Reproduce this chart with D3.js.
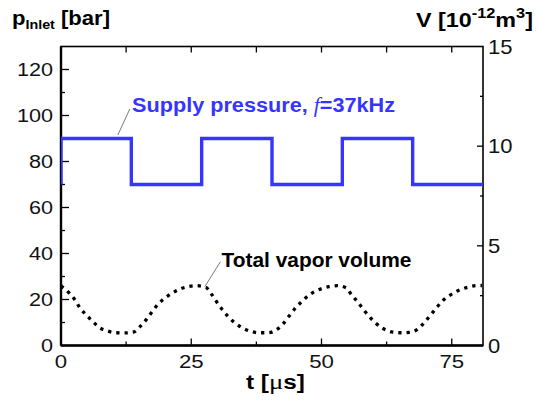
<!DOCTYPE html>
<html>
<head>
<meta charset="utf-8">
<script src="https://cdn.jsdelivr.net/npm/d3@7"></script>
<style>
  body { margin: 0; background: #fff; }
  svg text { font-family: "Liberation Sans", Arial, sans-serif; }
</style>
</head>
<body>
<div id="chart"></div>
<script>
// supply pressure (square wave, left axis, bar)
var pressureTime = [0, 0, 13.5, 27, 40.5, 54, 67.5, 81];
var pressureValue = [70, 90, 70, 90, 70, 90, 70, 70];

// total vapor volume (right axis, 10^-12 m^3)
var vaporTime = [0, 1.5, 2.7, 3.6, 4.7, 6.0, 7.3, 8.9, 10.5, 12.3, 14.0, 15.3, 16.4, 17.5, 18.6, 19.9,
    21.3, 22.8, 24.4, 26.0, 27.8, 28.9, 29.9, 30.9, 32.1, 33.3, 34.8, 36.4, 38.1, 39.8, 41.3, 42.6,
    43.7, 44.8, 46.0, 47.1, 48.1, 49.8, 51.4, 53.0, 54.7, 55.8, 57.0, 58.0, 59.2, 60.3, 61.9, 63.5,
    65.1, 66.9, 68.4, 69.6, 70.8, 72.0, 73.2, 74.7, 76.2, 78.0, 79.6, 80.8];
var vaporVolume = [2.99, 2.65, 2.28, 1.90, 1.57, 1.23, 0.91, 0.73, 0.64, 0.63, 0.68, 0.98, 1.31, 1.70, 2.07, 2.37,
    2.62, 2.83, 2.95, 3.00, 2.92, 2.57, 2.18, 1.82, 1.45, 1.15, 0.89, 0.71, 0.64, 0.64, 0.78, 1.08,
    1.45, 1.82, 2.15, 2.42, 2.62, 2.83, 2.95, 3.00, 2.90, 2.53, 2.17, 1.82, 1.45, 1.15, 0.84, 0.68,
    0.64, 0.66, 0.81, 1.11, 1.48, 1.87, 2.23, 2.53, 2.75, 2.92, 3.00, 3.01];

var xTicks = [0, 25, 50, 75];
var xMinor = [12.5, 37.5, 62.5];
var leftTicks = [0, 20, 40, 60, 80, 100, 120];
var leftMinor = [10, 30, 50, 70, 90, 110];
var rightTicks = [0, 5, 10, 15];
var rightMinor = [2.5, 7.5, 12.5];

var width = 536, height = 401;
var plotLeft = 61, plotRight = 483, plotTop = 46.5, plotBottom = 345.5;

var x = d3.scaleLinear().domain([0, 81]).range([plotLeft, plotRight]);
var yL = d3.scaleLinear().domain([0, 130]).range([plotBottom, plotTop]);
var yR = d3.scaleLinear().domain([0, 15]).range([plotBottom, plotTop]);

var svg = d3.select("#chart").append("svg")
    .attr("width", width)
    .attr("height", height);

// the original lettering is wider than Arial, so stretch it sideways
function place(px, py, s) {
    return "translate(" + px + "," + py + ") scale(" + s + ",1)";
}

// bold label stretched to the width it has in the original
function label(px, py, len) {
    return svg.append("text")
        .attr("x", px).attr("y", py)
        .attr("font-size", 20).attr("font-weight", "bold")
        .attr("textLength", len)
        .attr("lengthAdjust", "spacingAndGlyphs");
}

svg.append("defs").append("clipPath").attr("id", "plotclip")
    .append("rect")
    .attr("x", plotLeft).attr("y", plotTop - 5)
    .attr("width", plotRight - plotLeft).attr("height", plotBottom - plotTop + 10);

// ticks, pointing inward
var tickG = svg.append("g").attr("stroke", "#000").attr("stroke-width", 1.3);

function vTicks(vals, y0, len) {
    tickG.selectAll(null).data(vals).enter().append("line")
        .attr("x1", function(d){ return x(d); })
        .attr("x2", function(d){ return x(d); })
        .attr("y1", y0).attr("y2", y0 + len);
}
vTicks(xTicks.slice(1), plotBottom, -7);
vTicks(xMinor, plotBottom, -4);
vTicks(xTicks.concat(xMinor).slice(1), plotTop, 6);

function hTicks(vals, sc, x0, len) {
    tickG.selectAll(null).data(vals).enter().append("line")
        .attr("y1", function(d){ return sc(d); })
        .attr("y2", function(d){ return sc(d); })
        .attr("x1", x0).attr("x2", x0 + len);
}
hTicks(leftTicks.slice(1), yL, plotLeft, 8);
hTicks(leftMinor, yL, plotLeft, 4);
hTicks(rightTicks.slice(1, 3), yR, plotRight, -6);
hTicks(rightMinor, yR, plotRight, -3);

// plot frame
svg.append("rect")
    .attr("x", plotLeft).attr("y", plotTop)
    .attr("width", plotRight - plotLeft).attr("height", plotBottom - plotTop)
    .attr("fill", "none")
    .attr("stroke", "#000")
    .attr("stroke-width", 1.6);
svg.append("line").attr("x1", plotLeft).attr("x2", plotLeft).attr("y1", plotTop).attr("y2", plotBottom)
    .attr("stroke", "#000").attr("stroke-width", 2.4);
svg.append("line").attr("x1", plotLeft).attr("x2", plotRight).attr("y1", plotBottom).attr("y2", plotBottom)
    .attr("stroke", "#000").attr("stroke-width", 2.4);

// tick labels
var lab = svg.append("g").attr("fill", "#111");
lab.selectAll(null).data(xTicks).enter().append("text")
    .attr("font-size", 19)
    .attr("transform", function(d){ return place(x(d), 367.5, 1.17); })
    .attr("text-anchor", "middle")
    .text(function(d){ return d; });
lab.selectAll(null).data(leftTicks).enter().append("text")
    .attr("font-size", 18.5)
    .attr("transform", function(d){ return place(plotLeft - 8, yL(d) + 6.7, 1.17); })
    .attr("text-anchor", "end")
    .text(function(d){ return d; });
lab.selectAll(null).data(rightTicks).enter().append("text")
    .attr("font-size", 20)
    .attr("transform", function(d){ return place(plotRight + 5, yR(d) + 7.3, 1.1); })
    .attr("text-anchor", "start")
    .text(function(d){ return d; });

// axis titles
var tl = label(12, 25, 98);
tl.append("tspan").text("p");
tl.append("tspan").attr("font-size", 13).attr("dy", 4).text("Inlet");
tl.append("tspan").attr("dy", -4).text(" [bar]");

var tr = label(416, 26.5, 117);
tr.append("tspan").text("V [10");
tr.append("tspan").attr("font-size", 14).attr("dy", -9).text("-12");
tr.append("tspan").attr("dy", 9).text("m");
tr.append("tspan").attr("font-size", 14).attr("dy", -9).text("3");
tr.append("tspan").attr("dy", 9).text("]");

var tx = label(246, 388.5, 59);
tx.append("tspan").text("t [");
tx.append("tspan").attr("font-family", "Liberation Serif, serif").attr("font-weight", "normal")
    .attr("font-size", 22).text("\u03bc");
tx.append("tspan").text("s]");

// series
var plot = svg.append("g").attr("clip-path", "url(#plotclip)");

var pressureLine = d3.line()
    .x(function(d){ return x(d[0]); })
    .y(function(d){ return yL(d[1]); })
    .curve(d3.curveStepAfter);
plot.append("path")
    .datum(d3.zip(pressureTime, pressureValue))
    .attr("d", pressureLine)
    .attr("fill", "none")
    .attr("stroke", "#3535ff")
    .attr("stroke-width", 3.4);

var vaporLine = d3.line()
    .x(function(d){ return x(d[0]); })
    .y(function(d){ return yR(d[1]); })
    .curve(d3.curveMonotoneX);
plot.append("path")
    .datum(d3.zip(vaporTime, vaporVolume))
    .attr("d", vaporLine)
    .attr("fill", "none")
    .attr("stroke", "#000")
    .attr("stroke-width", 3.3)
    .attr("stroke-dasharray", "3.3,5");

// annotations
svg.append("line")
    .attr("x1", x(10.9)).attr("y1", yL(91.5))
    .attr("x2", x(13.2)).attr("y2", yL(102.8))
    .attr("stroke", "#555").attr("stroke-width", 0.8);
var sp = label(132, yL(101.4), 263).attr("fill", "#3535ff");
sp.append("tspan").text("Supply pressure, ");
sp.append("tspan").attr("font-family", "Liberation Serif, serif").attr("font-style", "italic")
    .attr("font-weight", "normal").text("f");
sp.append("tspan").text("=37kHz");

svg.append("line")
    .attr("x1", x(27.6)).attr("y1", yR(2.95))
    .attr("x2", x(30.6)).attr("y2", yR(4.2))
    .attr("stroke", "#555").attr("stroke-width", 0.8);
label(221.5, yR(3.95), 190).text("Total vapor volume");
</script>
</body>
</html>
